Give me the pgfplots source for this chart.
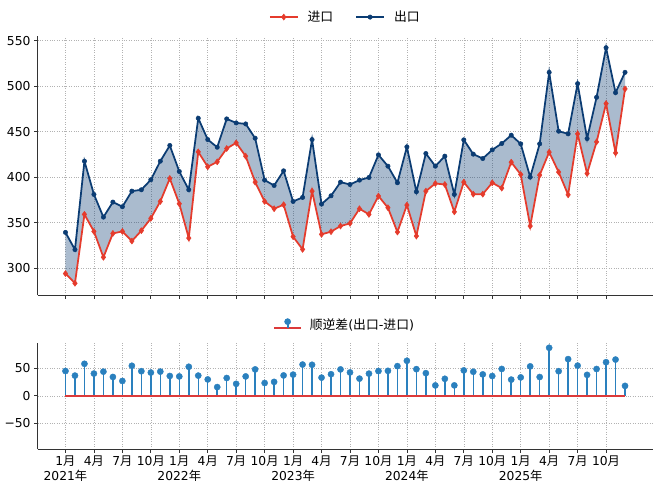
\documentclass[border=0pt]{standalone}
\usepackage{pgfplots}
\usepackage{pgfplotstable}
\pgfplotsset{compat=1.18}
\usepgfplotslibrary{fillbetween}
\usepackage{fontspec}
\setmainfont{DejaVu Sans}
\newfontfamily\cjk{Noto Sans CJK SC}
\newcommand{\yue}{{\cjk 月}}
\newcommand{\nian}{{\cjk 年}}
\definecolor{impc}{HTML}{E53B2C}
\definecolor{expc}{HTML}{0B3C73}
\definecolor{stemc}{HTML}{2A80BE}
\definecolor{basec}{HTML}{DC3A3A}
\definecolor{spinec}{HTML}{333333}

\pgfplotstableread{
i e m d
0 339.4 294.2 45.2
1 320.5 283.6 36.9
2 417.6 359.2 58.4
3 381.1 340.5 40.6
4 356.2 312.1 44.1
5 372.7 338.3 34.4
6 367.6 340.5 27.1
7 384.7 329.9 54.8
8 386.2 341.3 44.9
9 397.2 354.8 42.4
10 417.6 373.4 44.2
11 434.8 398.6 36.2
12 406.3 370.9 35.4
13 386.2 333.2 53.0
14 464.7 427.8 36.9
15 441.3 411.4 29.9
16 432.9 416.9 16.0
17 464.0 431.5 32.5
18 459.6 437.7 21.9
19 458.5 423.1 35.4
20 442.8 394.6 48.2
21 396.8 373.4 23.4
22 390.9 365.4 25.5
23 407.0 369.8 37.2
24 373.4 334.7 38.7
25 377.8 320.8 57.0
26 441.3 384.7 56.6
27 370.5 337.3 33.2
28 379.6 340.2 39.4
29 394.6 346.4 48.2
30 392.0 349.3 42.7
31 396.8 365.4 31.4
32 399.7 359.2 40.5
33 424.5 379.3 45.2
34 412.1 366.5 45.6
35 393.9 339.8 54.1
36 433.3 369.4 63.9
37 384.0 335.4 48.6
38 426.0 384.7 41.3
39 412.1 393.1 19.0
40 423.1 392.0 31.1
41 381.1 362.0 19.1
42 441.0 394.6 46.4
43 425.3 381.4 43.9
44 420.5 381.4 39.1
45 430.0 393.9 36.1
46 437.0 388.0 49.0
47 446.1 416.5 29.6
48 436.6 403.0 33.6
49 400.1 346.4 53.7
50 436.6 402.3 34.3
51 515.1 427.5 87.6
52 450.5 405.6 44.9
53 447.6 380.7 66.9
54 502.7 447.6 55.1
55 442.4 404.1 38.3
56 487.7 438.8 48.9
57 542.1 480.8 61.3
58 492.8 426.7 66.1
59 515.1 496.9 18.2
}\tradedata

\pgfplotsset{
  base/.style={
    scale only axis, width=615.5pt,
    xmin=-2.95, xmax=61.95,
    axis x line*=bottom, axis y line*=left,
    axis line style={spinec, line width=0.8pt, -},
    tick style={spinec, line width=0.8pt},
    tick align=outside, major tick length=3.5pt,
    xtick={0,3,...,57},
    grid=major,
    grid style={black!30, dotted, line width=0.55pt},
    ticklabel style={font=\fontsize{12.3}{14.5}\selectfont, text=black},
    legend style={draw=none, fill=none, font=\fontsize{12.8}{15}\selectfont,
      /tikz/every odd column/.append style={column sep=7pt}},
  },
}

\begin{document}
\begin{tikzpicture}
\path (0pt,0pt) rectangle (660pt,491pt);

% ---------- top panel ----------
\begin{axis}[base,
  at={(37.5pt,196pt)}, anchor=south west,
  height=259pt,
  ymin=270.7, ymax=555,
  ytick={300,350,400,450,500,550},
  yticklabels={300,350,400,450,500,550},
  xticklabels={},
  legend style={at={(0.5,1.073)}, anchor=center, legend columns=2,
    /tikz/every even column/.append style={column sep=20pt}},
  legend image code/.code={\draw[mark repeat=2,mark phase=2] plot coordinates {(0pt,0pt)(14pt,0pt)(28pt,0pt)};},
]
\addplot[name path=imp, impc, line width=1.75pt, mark=diamond*, mark size=3pt,
  mark options={fill=impc, draw=impc, line width=0.5pt}]
  table[x=i,y=m] {\tradedata};
\addlegendentry{{\cjk 进口}}
\addplot[name path=exp, expc, line width=1.75pt, mark=*, mark size=2.2pt,
  mark options={fill=expc, draw=expc, line width=0.5pt}]
  table[x=i,y=e] {\tradedata};
\addlegendentry{{\cjk 出口}}
\addplot[fill=expc, fill opacity=0.35, draw=none, forget plot] fill between[of=exp and imp];
\end{axis}

% ---------- bottom panel ----------
\begin{axis}[base,
  at={(37.5pt,42pt)}, anchor=south west,
  height=106.3pt,
  ymin=-96.8, ymax=96.8,
  ytick={-50,0,50},
  yticklabels={−50,0,50},
  xticklabel style={align=center},
  xticklabels={{1\yue\\2021\nian},{4\yue},{7\yue},{10\yue},
               {1\yue\\2022\nian},{4\yue},{7\yue},{10\yue},
               {1\yue\\2023\nian},{4\yue},{7\yue},{10\yue},
               {1\yue\\2024\nian},{4\yue},{7\yue},{10\yue},
               {1\yue\\2025\nian},{4\yue},{7\yue},{10\yue}},
  legend style={at={(0.5,1.17)}, anchor=center},
]
\addplot[ycomb, color=stemc, line width=1.5pt, forget plot,
  mark=*, mark size=3.1pt, mark options={fill=stemc, draw=stemc, line width=0.4pt}]
  table[x=i,y=d] {\tradedata};
\addplot[color=basec, line width=1.4pt, forget plot] coordinates {(0,0) (59,0)};
\addlegendimage{legend image code/.code={
    \fill[color=basec] (0pt,-3.7pt) rectangle (26pt,-2.3pt);
    \fill[color=stemc] (12.25pt,-3pt) rectangle (13.75pt,3pt);
    \fill[color=stemc] (13pt,3pt) circle (3.1pt);
  }}
\addlegendentry{{\cjk 顺逆差}({\cjk 出口}-{\cjk 进口})}
\end{axis}
\end{tikzpicture}
\end{document}
